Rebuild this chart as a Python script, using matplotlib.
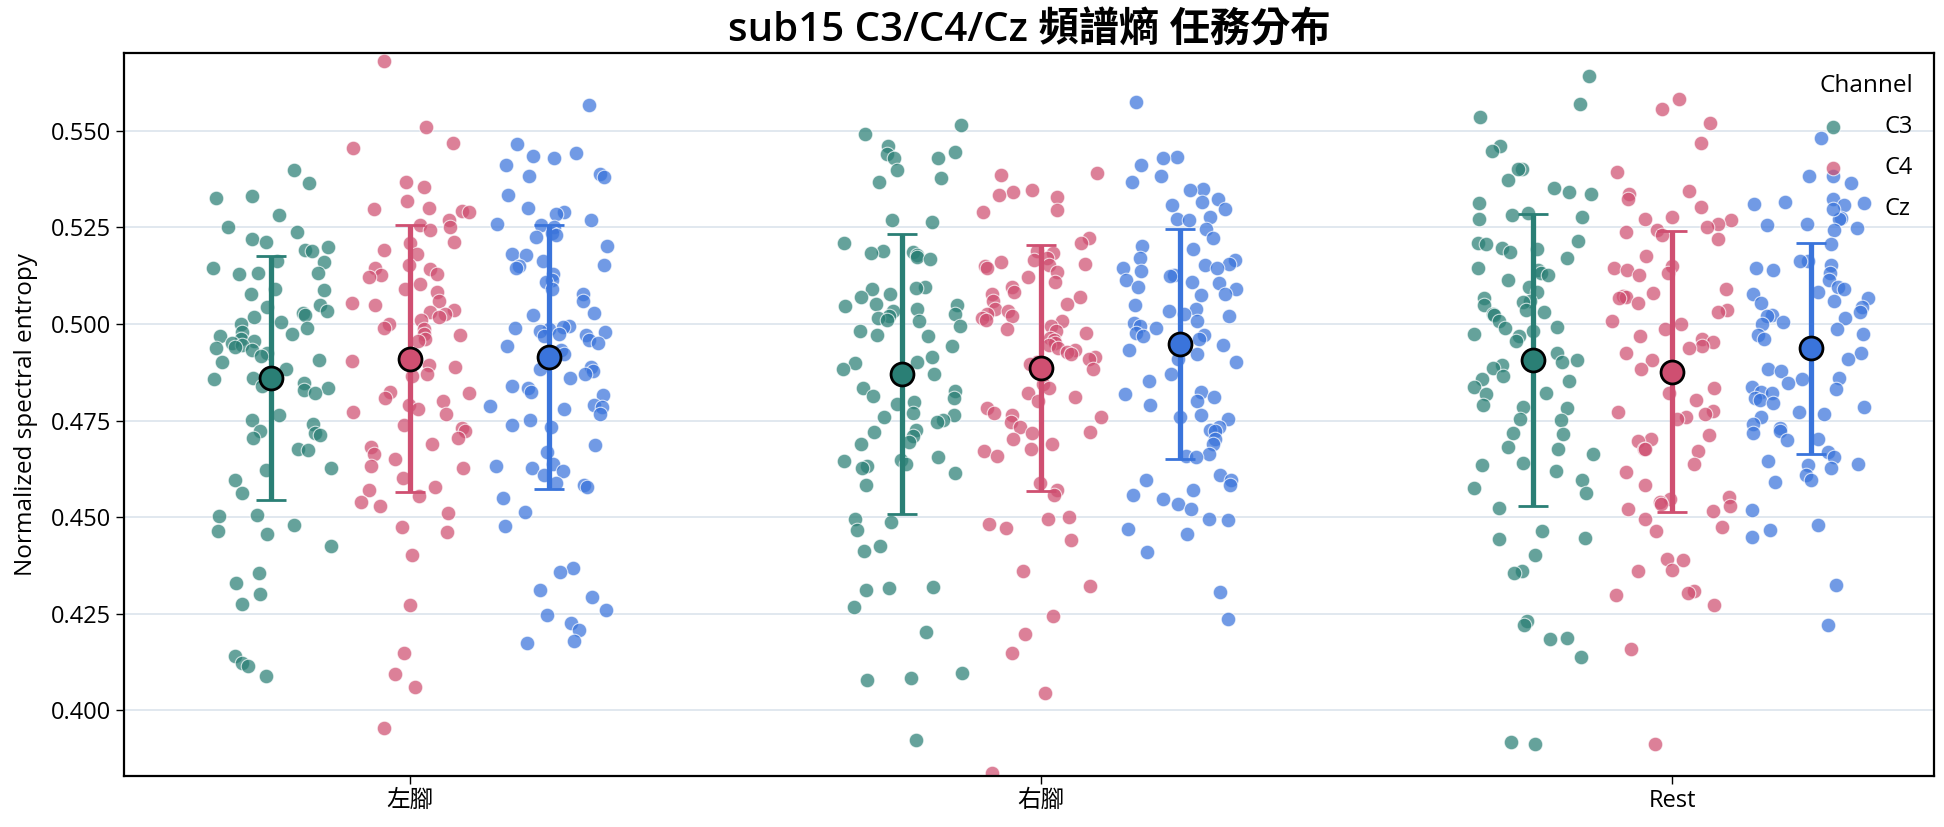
import numpy as np
import matplotlib.pyplot as plt

plt.rcParams['font.family'] = ['Open Sans', 'Noto Sans CJK TC', 'DejaVu Sans']

tasks = ["左腳", "右腳", "Rest"]
channels = ["C3", "C4", "Cz"]
colors = {"C3": "#2a7f75", "C4": "#cf4f71", "Cz": "#3a74db"}

# normalized spectral entropy per trial
left_c3 = [0.5399, 0.5366, 0.5331, 0.5327, 0.5282, 0.5252, 0.5237, 0.5219, 0.5213, 0.5200,
           0.5192, 0.5190, 0.5164, 0.5161, 0.5145, 0.5133, 0.5131, 0.5130, 0.5090, 0.5088,
           0.5078, 0.5048, 0.5044, 0.5033, 0.5029, 0.5023, 0.5017, 0.5005, 0.4999, 0.4990,
           0.4980, 0.4974, 0.4968, 0.4962, 0.4956, 0.4950, 0.4946, 0.4941, 0.4938, 0.4932,
           0.4925, 0.4917, 0.4907, 0.4901, 0.4883, 0.4861, 0.4858, 0.4846, 0.4840, 0.4834,
           0.4828, 0.4822, 0.4763, 0.4751, 0.4742, 0.4724, 0.4718, 0.4712, 0.4705, 0.4675,
           0.4673, 0.4628, 0.4623, 0.4595, 0.4562, 0.4504, 0.4502, 0.4479, 0.4465, 0.4455,
           0.4424, 0.4355, 0.4330, 0.4300, 0.4275, 0.4139, 0.4121, 0.4115, 0.4088]
left_c4 = [0.5681, 0.5509, 0.5469, 0.5455, 0.5368, 0.5355, 0.5319, 0.5301, 0.5298, 0.5292,
           0.5291, 0.5270, 0.5256, 0.5252, 0.5243, 0.5213, 0.5209, 0.5192, 0.5182, 0.5152,
           0.5145, 0.5143, 0.5130, 0.5127, 0.5121, 0.5103, 0.5090, 0.5084, 0.5060, 0.5054,
           0.5048, 0.5035, 0.5032, 0.5027, 0.5017, 0.5011, 0.4999, 0.4990, 0.4987, 0.4974,
           0.4971, 0.4962, 0.4956, 0.4903, 0.4895, 0.4889, 0.4870, 0.4864, 0.4824, 0.4822,
           0.4809, 0.4800, 0.4791, 0.4779, 0.4773, 0.4767, 0.4738, 0.4730, 0.4724, 0.4705,
           0.4689, 0.4681, 0.4663, 0.4651, 0.4633, 0.4626, 0.4602, 0.4577, 0.4571, 0.4555,
           0.4540, 0.4528, 0.4510, 0.4473, 0.4461, 0.4402, 0.4271, 0.4149, 0.4094, 0.4061,
           0.3954]
left_cz = [0.5567, 0.5467, 0.5443, 0.5435, 0.5430, 0.5411, 0.5388, 0.5384, 0.5381, 0.5335,
           0.5301, 0.5289, 0.5284, 0.5268, 0.5259, 0.5256, 0.5252, 0.5235, 0.5231, 0.5225,
           0.5203, 0.5181, 0.5178, 0.5164, 0.5154, 0.5149, 0.5145, 0.5130, 0.5115, 0.5109,
           0.5090, 0.5078, 0.5060, 0.5029, 0.5023, 0.4995, 0.4993, 0.4990, 0.4987, 0.4983,
           0.4978, 0.4974, 0.4971, 0.4968, 0.4958, 0.4950, 0.4944, 0.4932, 0.4922, 0.4917,
           0.4889, 0.4883, 0.4877, 0.4870, 0.4861, 0.4840, 0.4834, 0.4824, 0.4815, 0.4791,
           0.4787, 0.4785, 0.4779, 0.4767, 0.4751, 0.4738, 0.4733, 0.4687, 0.4669, 0.4638,
           0.4632, 0.4628, 0.4620, 0.4608, 0.4589, 0.4583, 0.4579, 0.4550, 0.4512, 0.4477,
           0.4367, 0.4357, 0.4311, 0.4293, 0.4259, 0.4247, 0.4226, 0.4208, 0.4180, 0.4174]
right_c3 = [0.5516, 0.5491, 0.5460, 0.5445, 0.5441, 0.5430, 0.5429, 0.5398, 0.5379, 0.5368,
            0.5269, 0.5265, 0.5209, 0.5190, 0.5186, 0.5184, 0.5178, 0.5174, 0.5169, 0.5096,
            0.5094, 0.5090, 0.5077, 0.5071, 0.5052, 0.5048, 0.5046, 0.5040, 0.5033, 0.5027,
            0.5021, 0.5015, 0.5011, 0.5008, 0.4996, 0.4983, 0.4971, 0.4968, 0.4943, 0.4914,
            0.4902, 0.4898, 0.4883, 0.4870, 0.4858, 0.4833, 0.4826, 0.4814, 0.4808, 0.4798,
            0.4793, 0.4770, 0.4764, 0.4758, 0.4751, 0.4745, 0.4726, 0.4720, 0.4710, 0.4695,
            0.4689, 0.4655, 0.4647, 0.4645, 0.4638, 0.4632, 0.4626, 0.4613, 0.4582, 0.4494,
            0.4488, 0.4466, 0.4425, 0.4413, 0.4319, 0.4316, 0.4312, 0.4266, 0.4203, 0.4095,
            0.4083, 0.4078, 0.3923]
right_c4 = [0.5391, 0.5385, 0.5347, 0.5341, 0.5335, 0.5328, 0.5294, 0.5291, 0.5222, 0.5209,
            0.5190, 0.5184, 0.5171, 0.5165, 0.5161, 0.5156, 0.5153, 0.5149, 0.5146, 0.5134,
            0.5121, 0.5109, 0.5096, 0.5084, 0.5077, 0.5071, 0.5059, 0.5052, 0.5040, 0.5033,
            0.5027, 0.5021, 0.5015, 0.5011, 0.5008, 0.4996, 0.4986, 0.4983, 0.4977, 0.4964,
            0.4958, 0.4952, 0.4946, 0.4939, 0.4933, 0.4927, 0.4921, 0.4914, 0.4908, 0.4902,
            0.4896, 0.4883, 0.4845, 0.4833, 0.4820, 0.4810, 0.4801, 0.4783, 0.4770, 0.4764,
            0.4758, 0.4745, 0.4732, 0.4720, 0.4717, 0.4701, 0.4689, 0.4676, 0.4670, 0.4657,
            0.4588, 0.4569, 0.4557, 0.4500, 0.4494, 0.4482, 0.4472, 0.4441, 0.4359, 0.4321,
            0.4243, 0.4196, 0.4149, 0.4045, 0.3836]
right_cz = [0.5575, 0.5432, 0.5429, 0.5412, 0.5382, 0.5369, 0.5349, 0.5347, 0.5324, 0.5316,
            0.5307, 0.5297, 0.5278, 0.5272, 0.5269, 0.5247, 0.5222, 0.5203, 0.5194, 0.5171,
            0.5165, 0.5156, 0.5153, 0.5146, 0.5144, 0.5136, 0.5127, 0.5124, 0.5115, 0.5109,
            0.5106, 0.5096, 0.5090, 0.5077, 0.5074, 0.5048, 0.5040, 0.5033, 0.5027, 0.5021,
            0.5008, 0.5002, 0.4996, 0.4990, 0.4977, 0.4971, 0.4968, 0.4961, 0.4946, 0.4933,
            0.4921, 0.4908, 0.4902, 0.4870, 0.4852, 0.4823, 0.4818, 0.4810, 0.4801, 0.4789,
            0.4764, 0.4758, 0.4755, 0.4732, 0.4726, 0.4722, 0.4701, 0.4689, 0.4664, 0.4657,
            0.4655, 0.4610, 0.4597, 0.4595, 0.4582, 0.4569, 0.4557, 0.4547, 0.4534, 0.4522,
            0.4494, 0.4492, 0.4469, 0.4456, 0.4409, 0.4306, 0.4237]
rest_c3 = [0.5641, 0.5570, 0.5537, 0.5460, 0.5447, 0.5402, 0.5401, 0.5374, 0.5353, 0.5341,
           0.5337, 0.5313, 0.5288, 0.5282, 0.5276, 0.5271, 0.5215, 0.5210, 0.5207, 0.5197,
           0.5194, 0.5186, 0.5170, 0.5145, 0.5139, 0.5133, 0.5127, 0.5115, 0.5097, 0.5084,
           0.5068, 0.5060, 0.5056, 0.5048, 0.5035, 0.5032, 0.5027, 0.5023, 0.5007, 0.4993,
           0.4990, 0.4983, 0.4974, 0.4968, 0.4956, 0.4925, 0.4907, 0.4901, 0.4895, 0.4885,
           0.4864, 0.4858, 0.4852, 0.4836, 0.4822, 0.4819, 0.4791, 0.4785, 0.4783, 0.4754,
           0.4751, 0.4718, 0.4714, 0.4681, 0.4675, 0.4663, 0.4641, 0.4636, 0.4620, 0.4595,
           0.4575, 0.4562, 0.4524, 0.4465, 0.4445, 0.4443, 0.4402, 0.4359, 0.4355, 0.4232,
           0.4220, 0.4186, 0.4183, 0.4137, 0.3917, 0.3911]
rest_c4 = [0.5582, 0.5557, 0.5521, 0.5469, 0.5394, 0.5345, 0.5337, 0.5323, 0.5304, 0.5276,
           0.5271, 0.5268, 0.5259, 0.5252, 0.5243, 0.5237, 0.5231, 0.5219, 0.5176, 0.5149,
           0.5145, 0.5139, 0.5133, 0.5127, 0.5090, 0.5081, 0.5072, 0.5070, 0.5068, 0.5054,
           0.5035, 0.5032, 0.5007, 0.4999, 0.4987, 0.4968, 0.4962, 0.4954, 0.4944, 0.4938,
           0.4925, 0.4907, 0.4883, 0.4834, 0.4822, 0.4803, 0.4775, 0.4773, 0.4767, 0.4760,
           0.4754, 0.4712, 0.4702, 0.4697, 0.4677, 0.4675, 0.4672, 0.4638, 0.4616, 0.4583,
           0.4553, 0.4546, 0.4540, 0.4534, 0.4528, 0.4522, 0.4516, 0.4494, 0.4473, 0.4465,
           0.4391, 0.4388, 0.4363, 0.4359, 0.4308, 0.4302, 0.4298, 0.4271, 0.4159, 0.3911]
rest_cz = [0.5482, 0.5384, 0.5382, 0.5366, 0.5323, 0.5317, 0.5313, 0.5311, 0.5309, 0.5274,
           0.5272, 0.5259, 0.5256, 0.5249, 0.5243, 0.5207, 0.5164, 0.5162, 0.5154, 0.5145,
           0.5139, 0.5133, 0.5115, 0.5097, 0.5090, 0.5084, 0.5078, 0.5068, 0.5060, 0.5054,
           0.5044, 0.5032, 0.5023, 0.5020, 0.5015, 0.5005, 0.4999, 0.4987, 0.4974, 0.4971,
           0.4962, 0.4925, 0.4910, 0.4883, 0.4877, 0.4861, 0.4858, 0.4846, 0.4836, 0.4831,
           0.4824, 0.4822, 0.4809, 0.4803, 0.4795, 0.4785, 0.4773, 0.4767, 0.4760, 0.4742,
           0.4730, 0.4724, 0.4718, 0.4702, 0.4699, 0.4669, 0.4656, 0.4644, 0.4638, 0.4636,
           0.4626, 0.4608, 0.4595, 0.4592, 0.4518, 0.4479, 0.4467, 0.4449, 0.4323, 0.4220]

data = {
    ("左腳", "C3"): left_c3, ("左腳", "C4"): left_c4, ("左腳", "Cz"): left_cz,
    ("右腳", "C3"): right_c3, ("右腳", "C4"): right_c4, ("右腳", "Cz"): right_cz,
    ("Rest", "C3"): rest_c3, ("Rest", "C4"): rest_c4, ("Rest", "Cz"): rest_cz,
}

offsets = {"C3": -0.22, "C4": 0.0, "Cz": 0.22}
jitter = 0.095
rng = np.random.default_rng(15)  # horizontal jitter only

fig = plt.figure(figsize=(19.44, 8.27), dpi=100)
ax = fig.add_axes([0.064, 0.062, 0.931, 0.874])

for i, task in enumerate(tasks):
    for ch in channels:
        y = np.array(data[(task, ch)])
        x = i + offsets[ch] + rng.uniform(-jitter, jitter, len(y))
        ax.scatter(x, y, s=110, color=colors[ch], alpha=0.72, edgecolor="white",
                   linewidth=0.8, zorder=2, label=ch if i == 0 else None)

for i, task in enumerate(tasks):
    for ch in channels:
        y = np.array(data[(task, ch)])
        ax.errorbar(i + offsets[ch], y.mean(), yerr=y.std(ddof=1), fmt="o",
                    color=colors[ch], ecolor=colors[ch], elinewidth=3.8, capsize=11,
                    capthick=2.2, markersize=16.5, markeredgecolor="black",
                    markeredgewidth=2, zorder=4)

ax.set_xlim(-0.452, 2.415)
ax.set_ylim(0.383, 0.5702)
ax.set_xticks(range(len(tasks)))
ax.set_xticklabels(tasks)
ax.set_yticks(np.arange(0.400, 0.5501, 0.025))
ax.set_yticklabels([f"{v:.3f}" for v in np.arange(0.400, 0.5501, 0.025)])
ax.tick_params(axis="both", labelsize=17, length=6, width=1, color="black")
ax.grid(axis="y", color="#dbe4ec", linewidth=1.2)
ax.set_axisbelow(True)
for sp in ax.spines.values():
    sp.set_linewidth(1.6)
    sp.set_color("black")

ax.set_ylabel("Normalized spectral entropy", fontsize=17.5, labelpad=9)
ax.set_title("sub15 C3/C4/Cz 頻譜熵 任務分布", fontsize=29, fontweight="semibold", pad=8)

leg = ax.legend(title="Channel", loc="upper right", frameon=False, fontsize=17,
                title_fontsize=17.5, handletextpad=1.2, labelspacing=0.72)
leg._legend_box.align = "right"

fig.savefig("out.png", dpi=100)
